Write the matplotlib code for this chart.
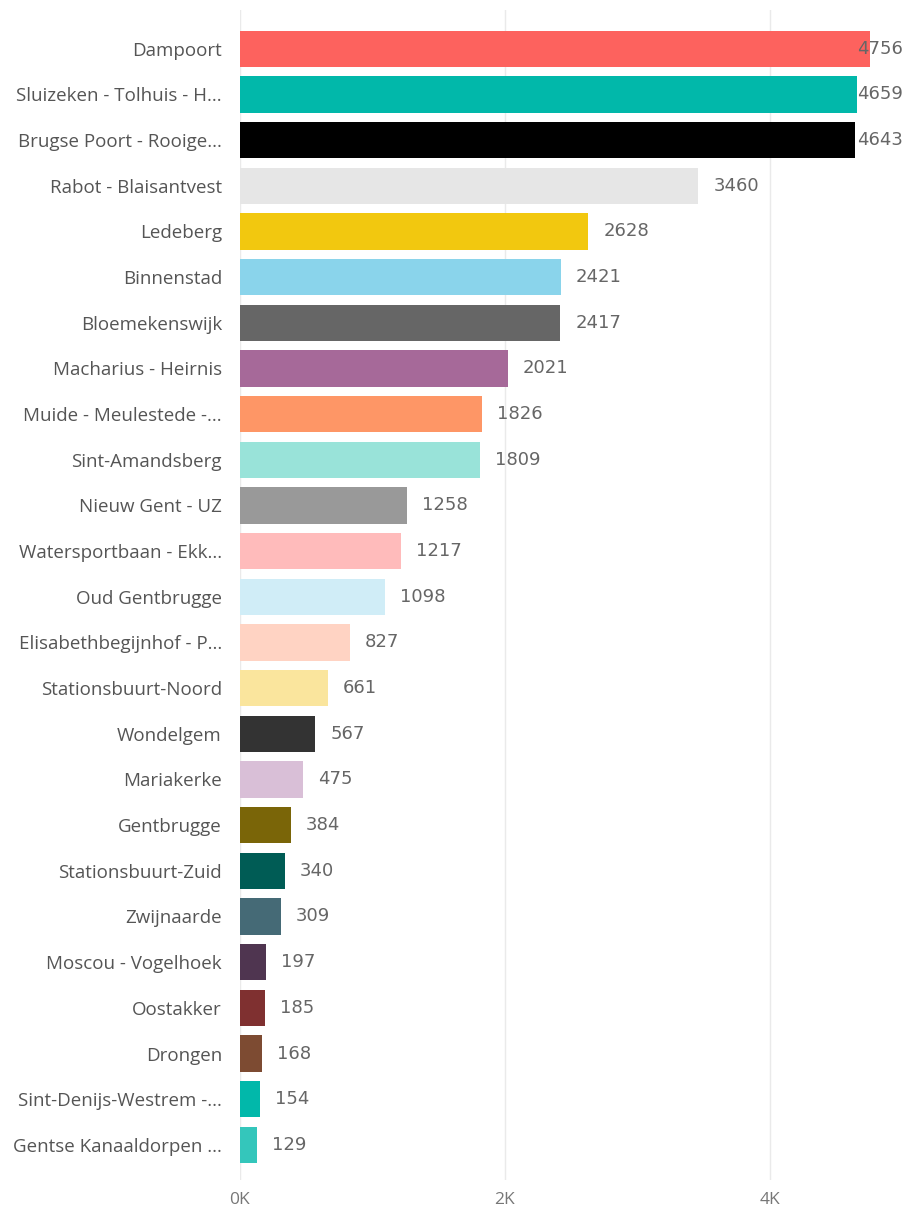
import matplotlib
matplotlib.use("Agg")
import matplotlib.pyplot as plt
from matplotlib.ticker import FuncFormatter

# wijken en aantallen, van boven naar onder
wijken = ["Dampoort", "Sluizeken - Tolhuis - H...", "Brugse Poort - Rooige...",
          "Rabot - Blaisantvest", "Ledeberg", "Binnenstad", "Bloemekenswijk",
          "Macharius - Heirnis", "Muide - Meulestede -...", "Sint-Amandsberg",
          "Nieuw Gent - UZ", "Watersportbaan - Ekk...", "Oud Gentbrugge",
          "Elisabethbegijnhof - P...", "Stationsbuurt-Noord", "Wondelgem",
          "Mariakerke", "Gentbrugge", "Stationsbuurt-Zuid", "Zwijnaarde",
          "Moscou - Vogelhoek", "Oostakker", "Drongen", "Sint-Denijs-Westrem -...",
          "Gentse Kanaaldorpen ..."]
aantallen = [4756, 4659, 4643, 3460, 2628, 2421, 2417, 2021, 1826, 1809,
             1258, 1217, 1098, 827, 661, 567, 475, 384, 340, 309,
             197, 185, 168, 154, 129]
kleuren = ["#FD625E", "#01B8AA", "#000000", "#E6E6E6", "#F2C80F", "#8AD4EB",
           "#666666", "#A66999", "#FE9666", "#99E3D9", "#999999", "#FFBBBB",
           "#D0EDF7", "#FFD3C3", "#FAE59D", "#333333", "#D9BFD7", "#7A6508",
           "#005C55", "#456A76", "#4F3550", "#7F3030", "#7D4B32", "#01B8AA",
           "#34C6BB"]
ticks = [0, 2000, 4000]

W, H = 904, 1210
fig = plt.figure(figsize=(W / 100, H / 100), dpi=100)
ax = fig.add_axes([240 / W, (H - 1180) / H, (W - 240) / W, 1170 / H])

xmax = (W - 240) / 132.5 * 1000
ypos = list(range(len(wijken)))
ax.barh(ypos, aantallen, height=0.79, color=kleuren, zorder=2)
ax.set_xlim(0, xmax)
ax.set_ylim(24.77, -0.85)

for sp in ax.spines.values():
    sp.set_visible(False)
ax.set_xticks(ticks)
ax.xaxis.set_major_formatter(FuncFormatter(lambda v, p: "%dK" % (v / 1000)))
ax.grid(axis="x", color="#EAEAEA", linewidth=1, zorder=0)
ax.tick_params(axis="x", length=0, pad=9, labelsize=12.5, labelcolor="#777777")
ax.tick_params(axis="y", length=0, pad=13, labelsize=13.5, labelcolor="#555555")
ax.set_yticks(ypos)
ax.set_yticklabels(wijken, family=["Open Sans", "DejaVu Sans"])
for lab in ax.get_xticklabels():
    lab.set_family("Open Sans")

# waardelabels: rechts van de balk, of tegen de rand als het niet past
px = xmax / (W - 240)
for y, v in zip(ypos, aantallen):
    if v + (15 + 46) * px > xmax:
        ax.text(xmax - 1 * px, y, str(v), ha="right", va="center", fontsize=13,
                color="#666666", family="DejaVu Sans Condensed", clip_on=False, zorder=3)
    else:
        ax.text(v + 15 * px, y, str(v), ha="left", va="center", fontsize=13,
                color="#666666", family="DejaVu Sans Condensed", clip_on=False, zorder=3)

fig.savefig("out.png", dpi=100, facecolor="white")
